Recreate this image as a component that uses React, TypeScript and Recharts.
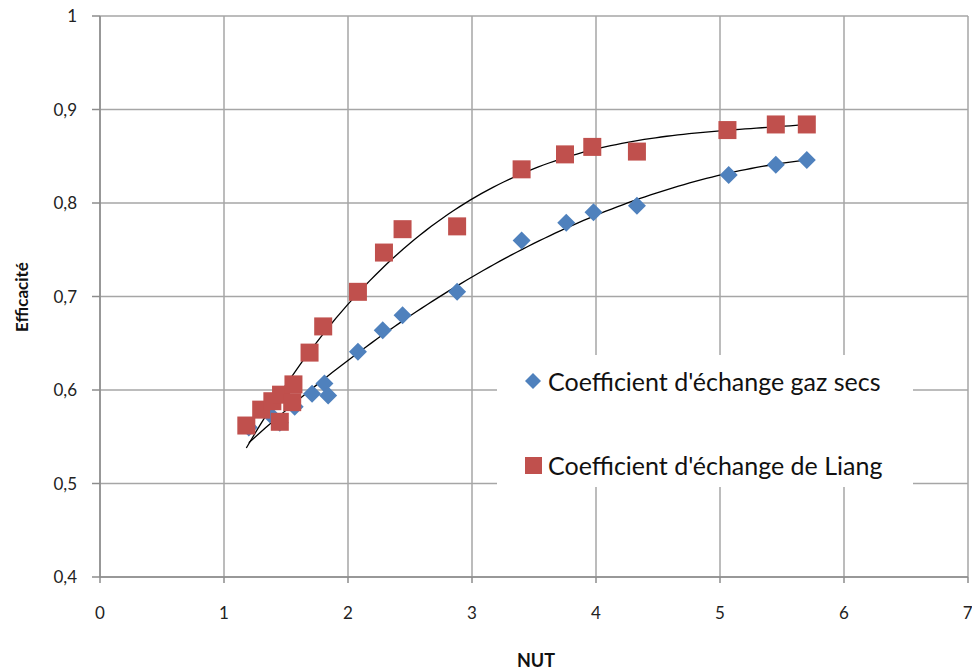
import React from "react";
import { ComposedChart, Scatter, Line, XAxis, YAxis, CartesianGrid, Legend } from "recharts";

const gazSecsNut = [1.2, 1.37, 1.45, 1.57, 1.71, 1.81, 1.84, 2.08, 2.28, 2.44, 2.88, 3.4, 3.76, 3.98, 4.33, 5.07, 5.45, 5.7];
const gazSecsEff = [0.56, 0.574, 0.565, 0.582, 0.596, 0.607, 0.594, 0.641, 0.664, 0.68, 0.705, 0.76, 0.779, 0.79, 0.797, 0.83, 0.841, 0.846];

const liangNut = [1.18, 1.3, 1.39, 1.45, 1.46, 1.55, 1.56, 1.69, 1.8, 2.08, 2.29, 2.44, 2.88, 3.4, 3.75, 3.97, 4.33, 5.06, 5.45, 5.7];
const liangEff = [0.562, 0.579, 0.588, 0.566, 0.595, 0.587, 0.606, 0.64, 0.668, 0.705, 0.747, 0.772, 0.775, 0.836, 0.852, 0.86, 0.855, 0.878, 0.884, 0.884];

const xTicks = [0, 1, 2, 3, 4, 5, 6, 7];
const yTicks = [0.4, 0.5, 0.6, 0.7, 0.8, 0.9, 1];

const BLUE = "#4f81bd";
const RED = "#c0504d";
const FONT = "Lato, 'Open Sans', sans-serif";

const toPoints = (xs: number[], ys: number[]) => xs.map((x, i) => ({ x, y: ys[i] }));

// least squares polynomial fit, like an Excel trendline
function polyfit(xs: number[], ys: number[], deg: number) {
  const n = deg + 1;
  const A: number[][] = [];
  for (let r = 0; r < n; r++) {
    A.push([]);
    for (let c = 0; c < n; c++) A[r].push(xs.reduce((s, x) => s + Math.pow(x, r + c), 0));
    A[r].push(xs.reduce((s, x, i) => s + Math.pow(x, r) * ys[i], 0));
  }
  for (let i = 0; i < n; i++) {
    let p = i;
    for (let k = i + 1; k < n; k++) if (Math.abs(A[k][i]) > Math.abs(A[p][i])) p = k;
    [A[i], A[p]] = [A[p], A[i]];
    for (let k = i + 1; k < n; k++) {
      const f = A[k][i] / A[i][i];
      for (let j = i; j <= n; j++) A[k][j] -= f * A[i][j];
    }
  }
  const coef = new Array(n).fill(0);
  for (let i = n - 1; i >= 0; i--) {
    let s = A[i][n];
    for (let j = i + 1; j < n; j++) s -= A[i][j] * coef[j];
    coef[i] = s / A[i][i];
  }
  return coef;
}

function trend(xs: number[], ys: number[], deg: number) {
  const coef = polyfit(xs, ys, deg);
  const lo = Math.min(...xs);
  const hi = Math.max(...xs);
  const out: { x: number; y: number }[] = [];
  for (let i = 0; i <= 100; i++) {
    const x = lo + ((hi - lo) * i) / 100;
    out.push({ x, y: coef.reduce((s, c, k) => s + c * Math.pow(x, k), 0) });
  }
  return out;
}

const Diamond = (props: any) => {
  const { cx, cy } = props;
  const r = 9;
  return <polygon points={`${cx},${cy - r} ${cx + r},${cy} ${cx},${cy + r} ${cx - r},${cy}`} fill={BLUE} />;
};

const Square = (props: any) => {
  const { cx, cy } = props;
  return <rect x={cx - 9} y={cy - 9} width={18} height={18} fill={RED} />;
};

const fmt = (v: number) => String(Math.round(v * 10) / 10).replace(".", ",");

const LegendBox = () => (
  <div style={{ fontFamily: FONT, fontSize: 25, color: "#111", background: "#fff", width: "100%", height: "100%" }}>
    <div style={{ display: "flex", alignItems: "center", position: "absolute", top: 11, left: 27 }}>
      <svg width={18} height={18} style={{ marginRight: 6 }}>
        <polygon points="9,1 17,9 9,17 1,9" fill={BLUE} />
      </svg>
      <span>Coefficient d'échange gaz secs</span>
    </div>
    <div style={{ display: "flex", alignItems: "center", position: "absolute", top: 95, left: 27 }}>
      <svg width={18} height={18} style={{ marginRight: 6 }}>
        <rect x={1} y={1} width={17} height={17} fill={RED} />
      </svg>
      <span>Coefficient d'échange de Liang</span>
    </div>
  </div>
);

export default function App() {
  const gaz = toPoints(gazSecsNut, gazSecsEff);
  const liang = toPoints(liangNut, liangEff);
  const gazTrend = trend(gazSecsNut, gazSecsEff, 2);
  const liangTrend = trend(liangNut, liangEff, 3);

  return (
    <div style={{ position: "absolute", left: 0, top: 0, width: 972, height: 671, background: "#fff" }}>
      <ComposedChart width={972} height={671} margin={{ top: 16, right: 4, bottom: 0, left: 0 }}>
        <CartesianGrid stroke="#a6a6a6" strokeWidth={1.5} horizontalValues={yTicks} verticalValues={xTicks} />
        <XAxis
          type="number"
          dataKey="x"
          domain={[0, 7]}
          ticks={xTicks}
          height={94}
          tickSize={6}
          tickMargin={24}
          stroke="#8c8c8c"
          strokeWidth={1.5}
          tick={{ fill: "#222", fontSize: 17, fontFamily: FONT }}
        />
        <YAxis
          type="number"
          dataKey="y"
          domain={[0.4, 1]}
          ticks={yTicks}
          width={100}
          tickSize={8}
          tickMargin={15}
          tickFormatter={fmt}
          stroke="#8c8c8c"
          strokeWidth={1.5}
          tick={{ fill: "#222", fontSize: 17, fontFamily: FONT }}
        />
        <Scatter name="Coefficient d'échange gaz secs" data={gaz} shape={<Diamond />} isAnimationActive={false} />
        <Scatter name="Coefficient d'échange de Liang" data={liang} shape={<Square />} isAnimationActive={false} />
        <Line data={gazTrend} dataKey="y" stroke="#000" strokeWidth={1.3} dot={false} isAnimationActive={false} legendType="none" />
        <Line data={liangTrend} dataKey="y" stroke="#000" strokeWidth={1.3} dot={false} isAnimationActive={false} legendType="none" />
        <Legend
          layout="vertical"
          align="center"
          verticalAlign="middle"
          content={<LegendBox />}
          wrapperStyle={{ left: 497, top: 355, width: 416, height: 132, margin: 0 }}
        />
      </ComposedChart>
      <div
        style={{
          position: "absolute",
          left: 21,
          top: 297,
          transform: "translate(-50%, -50%) rotate(-90deg)",
          fontFamily: FONT,
          fontWeight: 700,
          fontSize: 17,
          color: "#111",
          whiteSpace: "nowrap",
        }}
      >
        Efficacité
      </div>
      <div
        style={{
          position: "absolute",
          left: 536,
          top: 660,
          transform: "translate(-50%, -50%)",
          fontFamily: FONT,
          fontWeight: 700,
          fontSize: 18,
          color: "#111",
        }}
      >
        NUT
      </div>
    </div>
  );
}
